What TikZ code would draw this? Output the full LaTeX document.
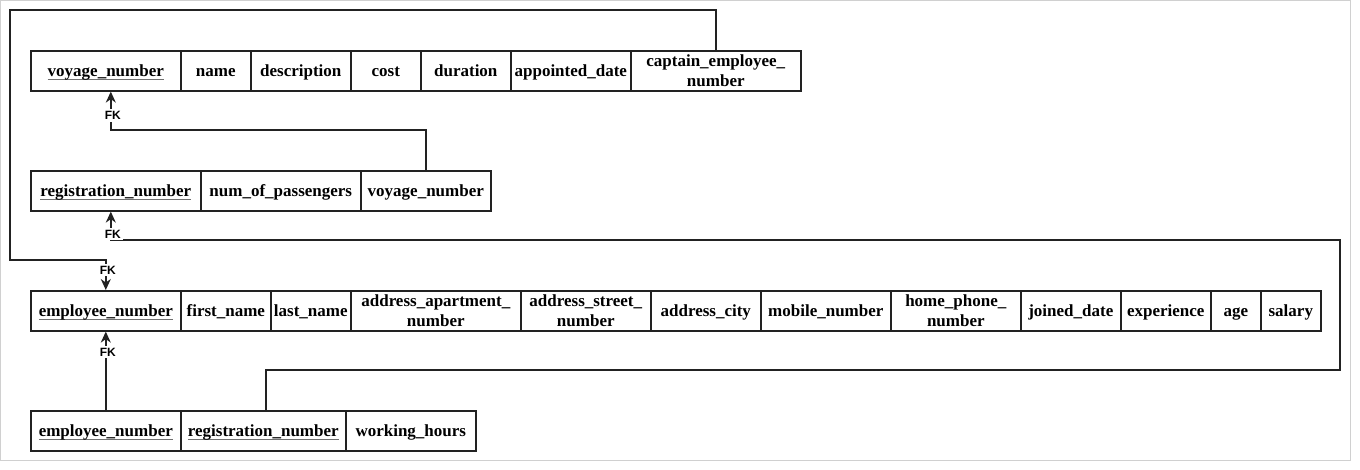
\documentclass[tikz,border=0pt]{standalone}
\usepackage{fontspec}
\setmainfont{Liberation Serif}
\newfontfamily\fkfont{Liberation Sans}
\usetikzlibrary{arrows.meta}
\definecolor{ulgray}{HTML}{707070}
\definecolor{linecol}{HTML}{222222}
\definecolor{framegray}{HTML}{D0D0D0}
\newcommand\pk[1]{\setbox0\hbox{#1}\rlap{\color{ulgray}\rule[-3pt]{\wd0}{1.1pt}}\box0}
\tikzset{
  cellbase/.style={draw=linecol, line width=1.6pt, inner sep=0pt, anchor=north west,
    minimum height=40pt, align=center, text=black,
    font=\fontsize{17}{20}\selectfont\bfseries},
  cell/.style={cellbase, text height=13.5pt, text depth=1.5pt},
  celltwo/.style={cellbase},
  conn/.style={draw=linecol, line width=1.4pt, -{Stealth[length=11pt,width=10pt,inset=3.5pt]}},
  fklabel/.style={fill=white, inner sep=2pt, text=black, font=\fkfont\fontsize{12}{14}\selectfont\bfseries}
}
\begin{document}
\begin{tikzpicture}[x=1pt,y=-1pt]
\useasboundingbox (0,0) rectangle (1360,470);
\draw[framegray, line width=1pt] (0.5,0.5) rectangle (1350.5,460.5);
% voyage
\node[cell, minimum width=150pt] (v1) at (30,50) {\pk{voyage\_number}};
\node[cell, minimum width=70pt]  (v2) at (180,50) {name};
\node[cell, minimum width=100pt] (v3) at (250,50) {description};
\node[cell, minimum width=70pt]  (v4) at (350,50) {cost};
\node[cell, minimum width=90pt]  (v5) at (420,50) {duration};
\node[cell, minimum width=120pt] (v6) at (510,50) {appointed\_date};
\node[celltwo, minimum width=170pt] (v7) at (630,50) {captain\_employee\_\\number};
% cruise
\node[cell, minimum width=170pt] (c1) at (30,170) {\pk{registration\_number}};
\node[cell, minimum width=160pt] (c2) at (200,170) {num\_of\_passengers};
\node[cell, minimum width=130pt] (c3) at (360,170) {voyage\_number};
% employee
\node[cell, minimum width=150pt] (e1) at (30,290) {\pk{employee\_number}};
\node[cell, minimum width=90pt]  (e2) at (180,290) {first\_name};
\node[cell, minimum width=80pt]  (e3) at (270,290) {last\_name};
\node[celltwo, minimum width=170pt] (e4) at (350,290) {address\_apartment\_\\number};
\node[celltwo, minimum width=130pt] (e5) at (520,290) {address\_street\_\\number};
\node[cell, minimum width=110pt] (e6) at (650,290) {address\_city};
\node[cell, minimum width=130pt] (e7) at (760,290) {mobile\_number};
\node[celltwo, minimum width=130pt] (e8) at (890,290) {home\_phone\_\\number};
\node[cell, minimum width=100pt] (e9) at (1020,290) {joined\_date};
\node[cell, minimum width=90pt]  (e10) at (1120,290) {experience};
\node[cell, minimum width=50pt]  (e11) at (1210,290) {age};
\node[cell, minimum width=60pt]  (e12) at (1260,290) {salary};
% works
\node[cell, minimum width=150pt] (w1) at (30,410) {\pk{employee\_number}};
\node[cell, minimum width=165pt] (w2) at (180,410) {\pk{registration\_number}};
\node[cell, minimum width=130pt] (w3) at (345,410) {working\_hours};
% waypoints
\coordinate (k1) at (10,10);
\coordinate (k2) at (10,260);
\coordinate (k3) at (1340,370);
\coordinate (k4) at (1340,240);
% connectors
\draw[conn] (c3.north) -- ++(0,-40) -| ([xshift=5pt]v1.south)
  node[fklabel, pos=0.69, xshift=2pt] {FK};
\draw[conn] (v7.north) |- (k1) -- (k2) -| (e1.north)
  node[fklabel, pos=0.67, xshift=2pt] {FK};
\draw[conn] ([xshift=2.5pt]w2.north) |- (k3) -- (k4) -| ([xshift=-5pt]c1.south)
  node[fklabel, pos=0.6, xshift=2pt] {FK};
\draw[conn] (w1.north) -- (e1.south)
  node[fklabel, pos=0.74, xshift=2pt] {FK};
\end{tikzpicture}
\end{document}
